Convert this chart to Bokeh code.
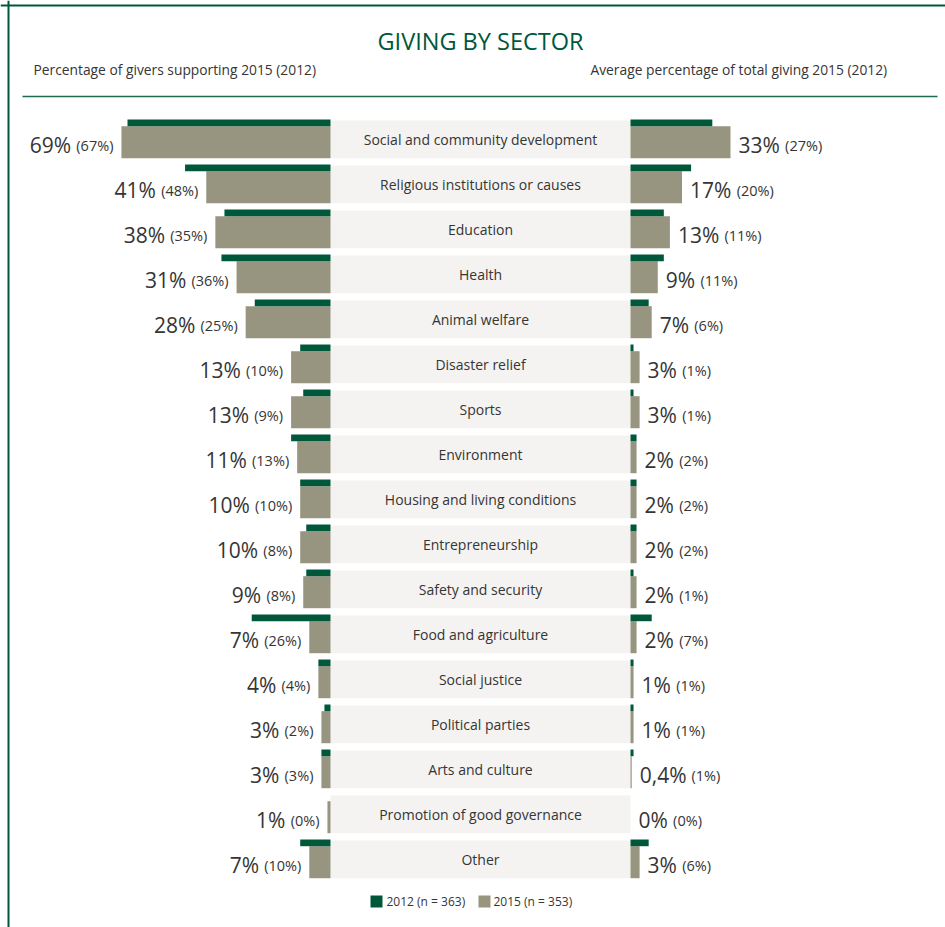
from bokeh.plotting import figure
from bokeh.models import Range1d, Span, ColumnDataSource
from bokeh.core.properties import value
from bokeh.embed import file_html
from bokeh.resources import INLINE

# ---------------- data ----------------
sectors = [
    "Social and community development", "Religious institutions or causes",
    "Education", "Health", "Animal welfare", "Disaster relief", "Sports",
    "Environment", "Housing and living conditions", "Entrepreneurship",
    "Safety and security", "Food and agriculture", "Social justice",
    "Political parties", "Arts and culture", "Promotion of good governance",
    "Other",
]
givers_2015 = [69, 41, 38, 31, 28, 13, 13, 11, 10, 10, 9, 7, 4, 3, 3, 1, 7]
givers_2012 = [67, 48, 35, 36, 25, 10, 9, 13, 10, 8, 8, 26, 4, 2, 3, 0, 10]
share_2015 = [33, 17, 13, 9, 7, 3, 3, 2, 2, 2, 2, 2, 1, 1, 0.4, 0, 3]
share_2012 = [27, 20, 11, 11, 6, 1, 1, 2, 2, 2, 1, 7, 1, 1, 1, 0, 6]
legend_labels = ["2012 (n = 363)", "2015 (n = 353)"]
title = "GIVING BY SECTOR"
left_subtitle = "Percentage of givers supporting 2015 (2012)"
right_subtitle = "Average percentage of total giving 2015 (2012)"

# ---------------- style / layout ----------------
GREEN = "#00583b"
GREY = "#97947f"
PANEL = "#f4f3f1"
TXT = "#353535"
FONT = value("Open Sans")
W, H = 945, 927
K = 3.03            # pixels per percentage point
ROW = 45.0          # pixels per row
X0 = 330.0          # pixel position of the left bars' base
Y0 = 138.85         # pixel position of the first row's middle
C = 300.0 / K       # width of the central label band in % units


def dx(px):
    return (px - X0) / K


def dy(py):
    return (py - Y0) / ROW


def fmt(v):
    if float(v).is_integer():
        return f"{int(v)}%"
    return f"{v}".replace(".", ",") + "%"


def text_w(s, size):
    m = {"(": 0.295, ")": 0.295, "%": 0.838, ",": 0.245, ".": 0.266}
    return size * sum(m.get(c, 0.572) for c in s)


n = len(sectors)
rows = list(range(n))
BIG, SMALL = 21, 14.5

p = figure(width=W, height=H, x_range=Range1d(dx(0), dx(W)),
           y_range=Range1d(dy(H), dy(0)), output_backend="svg",
           toolbar_location=None, min_border=0)
p.axis.visible = False
p.grid.visible = False
p.outline_line_color = None
p.background_fill_color = "white"

# central band
band = ColumnDataSource(dict(
    left=[0] * n, right=[C] * n,
    top=[r - 0.419 for r in rows], bottom=[r + 0.419 for r in rows],
    x=[C / 2] * n, y=[r + (6.85 - 7) / ROW for r in rows], text=sectors))
p.quad(left="left", right="right", top="top", bottom="bottom", source=band,
       fill_color=PANEL, line_color=None)
p.text(x="x", y="y", text="text", source=band, text_font=FONT,
       text_font_size="14px", text_color=TXT, text_align="center",
       text_baseline="alphabetic")

# left bars
p.quad(left=[-v for v in givers_2015], right=[0] * n,
       top=[r - 0.292 for r in rows], bottom=[r + 0.419 for r in rows],
       fill_color=GREY, line_color=None)
p.quad(left=[-v for v in givers_2012], right=[0] * n,
       top=[r - 0.441 for r in rows], bottom=[r - 0.292 for r in rows],
       fill_color=GREEN, line_color=None)

# right bars
p.quad(left=[C] * n, right=[C + v for v in share_2015],
       top=[r - 0.292 for r in rows], bottom=[r + 0.419 for r in rows],
       fill_color=GREY, line_color=None)
p.quad(left=[C] * n, right=[C + v for v in share_2012],
       top=[r - 0.441 for r in rows], bottom=[r - 0.292 for r in rows],
       fill_color=GREEN, line_color=None)

# left labels
l_small = [f"({fmt(v)})" for v in givers_2012]
l_big = [fmt(v) for v in givers_2015]
ly = [r + (12.85 - 7) / ROW for r in rows]
lx = [-v for v in givers_2015]
p.text(x=lx, y=ly, text=l_small, x_offset=-8, text_font=FONT,
       text_font_size=f"{SMALL}px", text_color=TXT, text_align="right",
       text_baseline="alphabetic")
p.text(x=lx, y=ly, text=l_big,
       x_offset=[-8 - text_w(s, SMALL) - 5 for s in l_small],
       text_font=FONT, text_font_size=f"{BIG}px", text_color=TXT,
       text_align="right", text_baseline="alphabetic")

# right labels
r_small = [f"({fmt(v)})" for v in share_2012]
r_big = [fmt(v) for v in share_2015]
rx = [C + v for v in share_2015]
p.text(x=rx, y=ly, text=r_big, x_offset=8, text_font=FONT,
       text_font_size=f"{BIG}px", text_color=TXT, text_align="left",
       text_baseline="alphabetic")
p.text(x=rx, y=ly, text=r_small,
       x_offset=[8 + text_w(s, BIG) + 5 for s in r_big],
       text_font=FONT, text_font_size=f"{SMALL}px", text_color=TXT,
       text_align="left", text_baseline="alphabetic")

# title & subtitles
p.text(x=[C / 2], y=[dy(40)], text=[title], text_font=FONT,
       text_font_size="23.5px", text_color=GREEN, text_align="center",
       text_baseline="alphabetic")
p.text(x=[dx(33), dx(590)], y=[dy(69), dy(69)],
       text=[left_subtitle, right_subtitle], text_font=FONT,
       text_font_size="13.8px", text_color=TXT, text_align="left",
       text_baseline="alphabetic")

# rule and frame
p.segment(x0=[dx(22)], x1=[dx(937)], y0=[dy(96)], y1=[dy(96)],
          line_color="#1d6b4a", line_width=1.5)
p.add_layout(Span(location=dx(8), dimension="height", line_color=GREEN,
                  line_width=2))
p.add_layout(Span(location=dy(5), dimension="width", line_color=GREEN,
                  line_width=2))

# legend
p.rect(x=[dx(376), dx(484)], y=[dy(901), dy(901)], width=12, height=12,
       width_units="screen", height_units="screen",
       fill_color=[GREEN, GREY], line_color=None)
p.text(x=[dx(386), dx(493)], y=[dy(901), dy(901)], text=legend_labels,
       text_font=FONT, text_font_size="12px", text_color=TXT,
       text_align="left", text_baseline="alphabetic")

open("out.html", "w").write(file_html(p, INLINE))
